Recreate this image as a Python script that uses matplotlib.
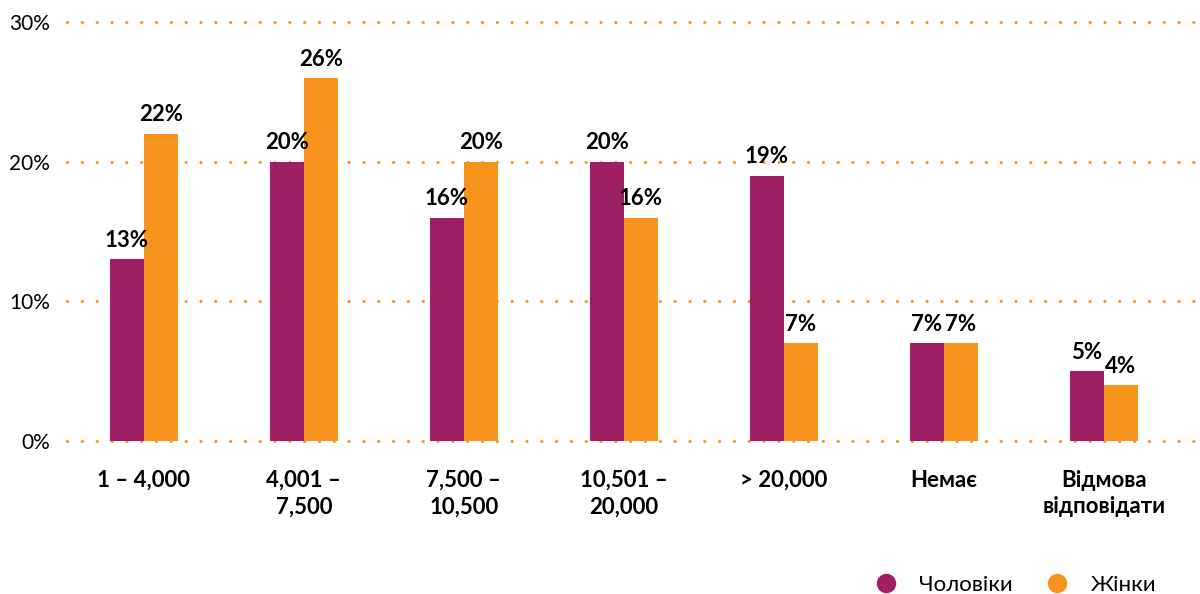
import matplotlib
matplotlib.use("Agg")
import matplotlib.pyplot as plt
from matplotlib.lines import Line2D
import numpy as np

# Data
categories = ["1 – 4,000", "4,001 –\n7,500", "7,500 –\n10,500", "10,501 –\n20,000",
              "> 20,000", "Немає", "Відмова\nвідповідати"]
men = [13, 20, 16, 20, 19, 7, 5]
women = [22, 26, 20, 16, 7, 7, 4]
series_names = ["Чоловіки", "Жінки"]
yticks = [0, 10, 20, 30]

MAGENTA = "#9E1F63"
ORANGE = "#F7941D"

plt.rcParams["font.family"] = ["Lato", "Open Sans", "DejaVu Sans"]

fig = plt.figure(figsize=(12, 5.94), dpi=100)
ax = fig.add_axes([0.0558, 0.2576, 0.9442, 0.7054])

x = np.arange(len(categories))
w = 0.2125
b1 = ax.bar(x - w / 2, men, w, color=MAGENTA, zorder=2)
b2 = ax.bar(x + w / 2, women, w, color=ORANGE, zorder=2)

# Value labels
for bars, vals in ((b1, men), (b2, women)):
    for rect, v in zip(bars, vals):
        ax.annotate(f"{v}%", (rect.get_x() + rect.get_width() / 2, v),
                    xytext=(0, 6), textcoords="offset points",
                    ha="center", va="bottom", fontsize=16, fontweight="bold")

ax.set_xlim(-0.48, 6.6)
ax.set_ylim(0, 30)
ax.set_yticks(yticks)
ax.set_yticklabels([f"{t}%" for t in yticks], fontsize=15)
ax.set_xticks(x)
ax.set_xticklabels(categories, fontsize=16, fontweight="bold", linespacing=1.3, va="top")
ax.tick_params(axis="x", length=0, pad=21)
ax.tick_params(axis="y", length=0, pad=12)

for t in yticks:
    ax.axhline(t, color=ORANGE, linewidth=2.2, linestyle=(0, (0.05, 4.8)),
               dash_capstyle="round", zorder=1, clip_on=False)

for s in ax.spines.values():
    s.set_visible(False)

handles = [Line2D([], [], marker="o", linestyle="none", markersize=13,
                  markerfacecolor=c, markeredgecolor=c) for c in (MAGENTA, ORANGE)]
fig.legend(handles, series_names, loc="lower right", bbox_to_anchor=(0.98, -0.035),
           ncol=2, frameon=False, fontsize=16, handletextpad=0.5, columnspacing=1.0)

fig.savefig("out.png", dpi=100)
